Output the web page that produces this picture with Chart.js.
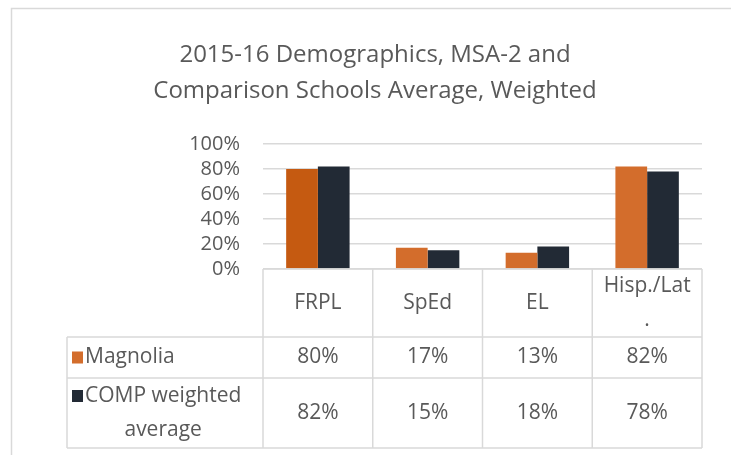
<!DOCTYPE html>
<html>
<head>
<meta charset="utf-8">
<title>2015-16 Demographics, MSA-2 and Comparison Schools</title>
<script src="https://cdn.jsdelivr.net/npm/chart.js@4.4.1/dist/chart.umd.min.js"></script>
<style>
    html, body { margin: 0; padding: 0; background: #ffffff; }
    #chart { display: block; }
</style>
</head>
<body>
<canvas id="chart" width="731" height="455"></canvas>
<script>
// Chart data
const categories = ['FRPL', 'SpEd', 'EL', ['Hisp./Lat', '.']];
const magnolia = [80, 17, 13, 82];
const compWeighted = [82, 15, 18, 78];
const seriesNames = ['Magnolia', ['COMP weighted', 'average']];
const yTicks = [0, 20, 40, 60, 80, 100];

const TEXT = '#595959';
const LINE = '#d9d9d9';
const ORANGE = '#d36d2c';
const DARK = '#222a35';
const FONT = '"Open Sans", sans-serif';

/**
 * Excel style data table under the plot, aligned to the x scale
 */
const dataTable = {
    id: 'dataTable',
    beforeDraw: function(chart) {
        const ctx = chart.ctx;
        ctx.save();
        ctx.fillStyle = '#ffffff';
        ctx.fillRect(0, 0, chart.width, chart.height);
        // chart area frame
        ctx.strokeStyle = LINE;
        ctx.lineWidth = 1.5;
        ctx.strokeRect(11.5, 8.5, chart.width + 20, chart.height + 20);
        ctx.restore();
    },
    afterDraw: function(chart) {
        const ctx = chart.ctx;
        const area = chart.chartArea;
        const xs = chart.scales.x;
        const colW = (area.right - area.left) / categories.length;
        const tableLeft = 67;
        const rowTops = [area.bottom, 337, 378, 448];

        ctx.save();
        ctx.strokeStyle = LINE;
        ctx.lineWidth = 1.5;
        ctx.beginPath();
        // horizontal rules
        ctx.moveTo(area.left, rowTops[0]);
        ctx.lineTo(area.right, rowTops[0]);
        for (let r = 1; r < rowTops.length; r++) {
            ctx.moveTo(tableLeft, rowTops[r]);
            ctx.lineTo(area.right, rowTops[r]);
        }
        // vertical rules
        ctx.moveTo(tableLeft, rowTops[1]);
        ctx.lineTo(tableLeft, rowTops[3]);
        for (let i = 0; i <= categories.length; i++) {
            const x = area.left + i * colW;
            ctx.moveTo(x, rowTops[0]);
            ctx.lineTo(x, rowTops[3]);
        }
        ctx.stroke();

        ctx.fillStyle = TEXT;
        ctx.font = '21px ' + FONT;
        ctx.textAlign = 'center';
        ctx.textBaseline = 'middle';
        const lineH = 34;

        function drawLines(text, x, yMid) {
            const lines = Array.isArray(text) ? text : [text];
            const y0 = yMid - (lines.length - 1) * lineH / 2;
            lines.forEach(function(line, k) {
                ctx.fillText(line, x, y0 + k * lineH);
            });
        }

        // header row with categories
        categories.forEach(function(cat, i) {
            drawLines(cat, xs.getPixelForValue(i), (rowTops[0] + rowTops[1]) / 2);
        });

        // series rows
        const rows = [
            { name: seriesNames[0], data: magnolia, color: ORANGE },
            { name: seriesNames[1], data: compWeighted, color: DARK }
        ];
        rows.forEach(function(row, r) {
            const top = rowTops[r + 1];
            const bottom = rowTops[r + 2];
            const mid = (top + bottom) / 2;
            const lines = Array.isArray(row.name) ? row.name : [row.name];
            const firstY = mid - (lines.length - 1) * lineH / 2;

            // legend key
            ctx.fillStyle = row.color;
            ctx.fillRect(72, firstY - 6, 11, 12);

            // first line sits next to the key, the rest centred under it
            ctx.fillStyle = TEXT;
            ctx.textAlign = 'left';
            ctx.fillText(lines[0], 85, firstY);
            const centre = 85 + ctx.measureText(lines[0]).width / 2;
            ctx.textAlign = 'center';
            for (let k = 1; k < lines.length; k++) {
                ctx.fillText(lines[k], centre, firstY + k * lineH);
            }

            row.data.forEach(function(v, i) {
                ctx.fillText(v + '%', xs.getPixelForValue(i), mid);
            });
        });
        ctx.restore();
    }
};

const ctx = document.getElementById('chart');

new Chart(ctx, {
    type: 'bar',
    data: {
        labels: categories,
        datasets: [{
            label: 'Magnolia',
            data: magnolia,
            backgroundColor: ['#c55a11', ORANGE, ORANGE, ORANGE],
            categoryPercentage: 0.578,
            barPercentage: 1
        }, {
            label: 'COMP weighted average',
            data: compWeighted,
            backgroundColor: DARK,
            categoryPercentage: 0.578,
            barPercentage: 1
        }]
    },
    options: {
        responsive: false,
        animation: false,
        layout: {
            padding: { left: 48, right: 29, top: 0, bottom: 186 }
        },
        plugins: {
            legend: { display: false },
            tooltip: {
                callbacks: {
                    label: function(item) {
                        return item.dataset.label + ': ' + item.raw + '%';
                    }
                }
            },
            title: {
                display: true,
                text: ['2015-16 Demographics, MSA-2 and', 'Comparison Schools Average, Weighted'],
                color: TEXT,
                font: { family: FONT, size: 24, weight: 'normal', lineHeight: 1.5 },
                padding: { top: 37, bottom: 35 }
            }
        },
        scales: {
            x: {
                display: false
            },
            y: {
                min: 0,
                max: 100,
                afterFit: function(scale) {
                    scale.width = 215;
                },
                afterBuildTicks: function(scale) {
                    scale.ticks = yTicks.map(function(v) { return { value: v }; });
                },
                border: { display: false },
                grid: {
                    color: LINE,
                    lineWidth: 1.5,
                    drawTicks: false
                },
                ticks: {
                    autoSkip: false,
                    padding: 23,
                    color: TEXT,
                    font: { family: FONT, size: 20 },
                    callback: function(v) { return v + '%'; }
                }
            }
        }
    },
    plugins: [dataTable]
});
</script>
</body>
</html>
